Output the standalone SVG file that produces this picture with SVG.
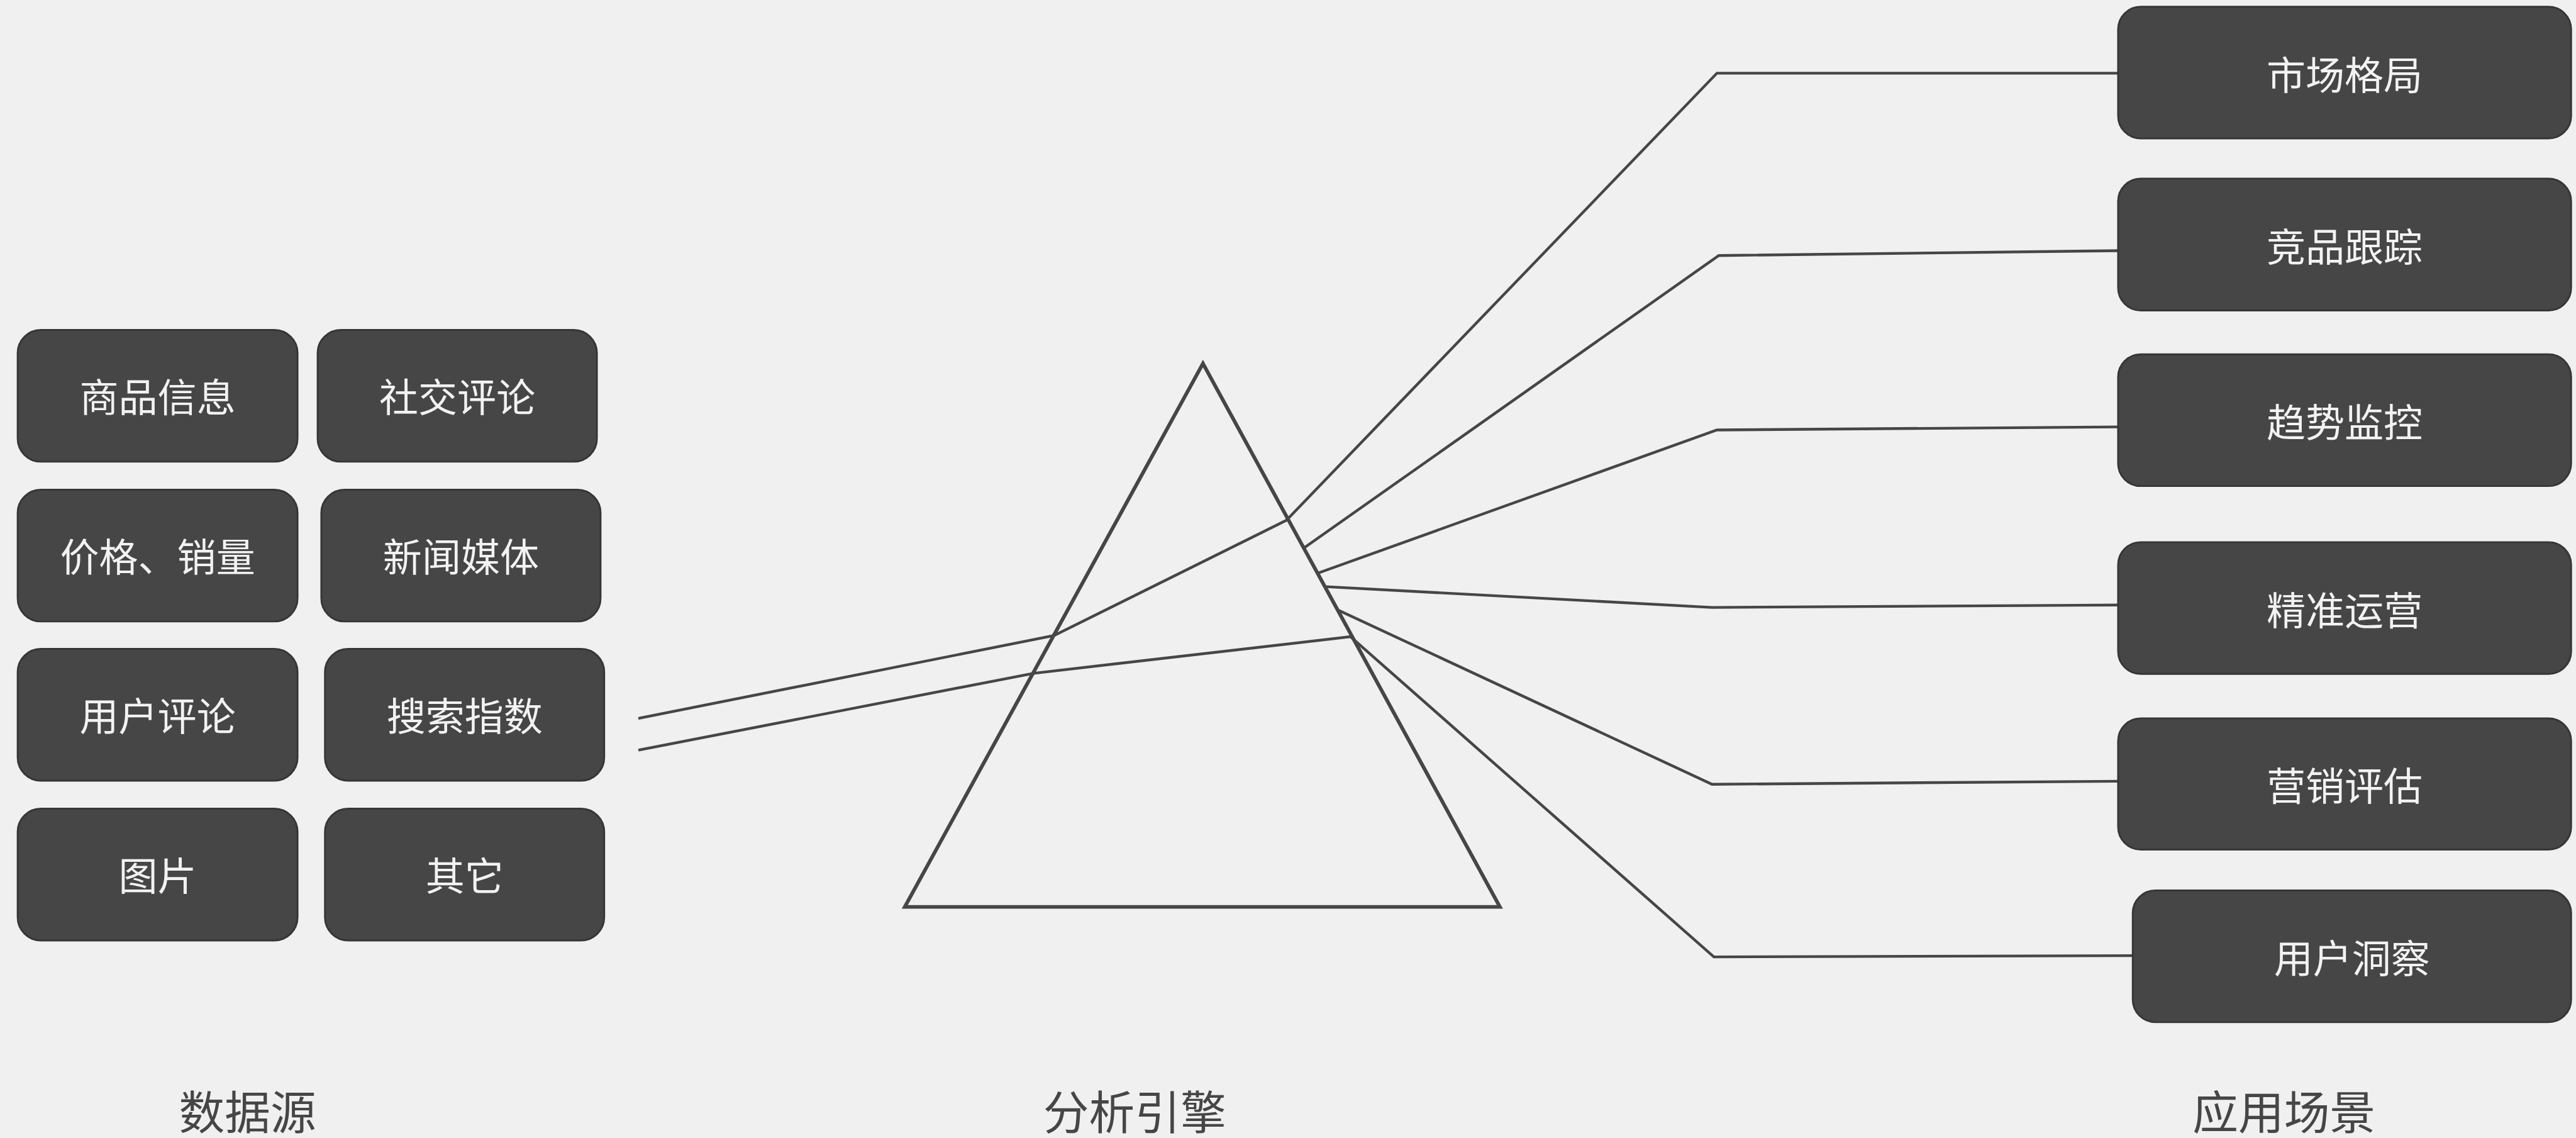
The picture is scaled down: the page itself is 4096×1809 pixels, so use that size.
<svg xmlns="http://www.w3.org/2000/svg" width="4096" height="1809" viewBox="0 0 4096 1809">
<style>
.box{fill:#464646;stroke:#363636;stroke-width:3}
.bt{font-family:"Noto Sans CJK SC","Liberation Sans",sans-serif;font-size:64px;fill:#f2f2f2;text-anchor:middle}
.lbl{font-family:"Noto Sans CJK SC","Liberation Sans",sans-serif;font-size:75px;fill:#464646;text-anchor:middle}
.ray{fill:none;stroke:#464646;stroke-width:4.5;stroke-linejoin:miter}
.prism{fill:none;stroke:#464646;stroke-width:6}
</style>
<rect x="0" y="0" width="4096" height="1809" fill="#f0f0f0"/>
<g transform="scale(0.96947)">
<g id="connectors">
<polyline class="ray" points="1047,1178 1729,1042 2110,853 2816,120 3474,120"/>
<polyline class="ray" points="1047,1230 1695,1104 2215,1044 2811,1569 3498,1567"/>
<polyline class="ray" points="2138,899 2819,419 3474,411"/>
<polyline class="ray" points="2161,940 2816,705 3474,700"/>
<polyline class="ray" points="2175,962 2808,996 3474,992"/>
<polyline class="ray" points="2194,1000 2808,1286 3474,1281"/>
</g>
<g id="prism">
<polygon class="prism" points="1973,596 1484,1487 2460,1487"/>
</g>
<g id="src-goods"><rect class="box" x="29" y="541" width="459" height="216" rx="38"/><text class="bt" x="258.5" y="676">商品信息</text></g>
<g id="src-social"><rect class="box" x="521" y="541" width="458" height="216" rx="38"/><text class="bt" x="750" y="676">社交评论</text></g>
<g id="src-price"><rect class="box" x="29" y="803" width="459" height="216" rx="38"/><text class="bt" x="258.5" y="938">价格、销量</text></g>
<g id="src-news"><rect class="box" x="527" y="803" width="458" height="216" rx="38"/><text class="bt" x="756" y="938">新闻媒体</text></g>
<g id="src-review"><rect class="box" x="29" y="1064" width="459" height="216" rx="38"/><text class="bt" x="258.5" y="1199">用户评论</text></g>
<g id="src-search"><rect class="box" x="533" y="1064" width="458" height="216" rx="38"/><text class="bt" x="762" y="1199">搜索指数</text></g>
<g id="src-image"><rect class="box" x="29" y="1326" width="459" height="216" rx="38"/><text class="bt" x="258.5" y="1461">图片</text></g>
<g id="src-other"><rect class="box" x="533" y="1326" width="458" height="216" rx="38"/><text class="bt" x="762" y="1461">其它</text></g>
<g id="app-market"><rect class="box" x="3474" y="11" width="743" height="216" rx="37"/><text class="bt" x="3845.5" y="147">市场格局</text></g>
<g id="app-compete"><rect class="box" x="3474" y="293" width="743" height="216" rx="37"/><text class="bt" x="3845.5" y="429">竞品跟踪</text></g>
<g id="app-trend"><rect class="box" x="3474" y="581" width="743" height="216" rx="37"/><text class="bt" x="3845.5" y="717">趋势监控</text></g>
<g id="app-ops"><rect class="box" x="3474" y="889" width="743" height="216" rx="37"/><text class="bt" x="3845.5" y="1025">精准运营</text></g>
<g id="app-marketing"><rect class="box" x="3474" y="1178" width="743" height="215" rx="37"/><text class="bt" x="3845.5" y="1313">营销评估</text></g>
<g id="app-insight"><rect class="box" x="3498" y="1460" width="719" height="216" rx="37"/><text class="bt" x="3857.5" y="1596">用户洞察</text></g>
<g id="labels">
<text class="lbl" x="406" y="1852">数据源</text>
<text class="lbl" x="1861" y="1852">分析引擎</text>
<text class="lbl" x="3746" y="1852">应用场景</text>
</g>
</g>
</svg>
